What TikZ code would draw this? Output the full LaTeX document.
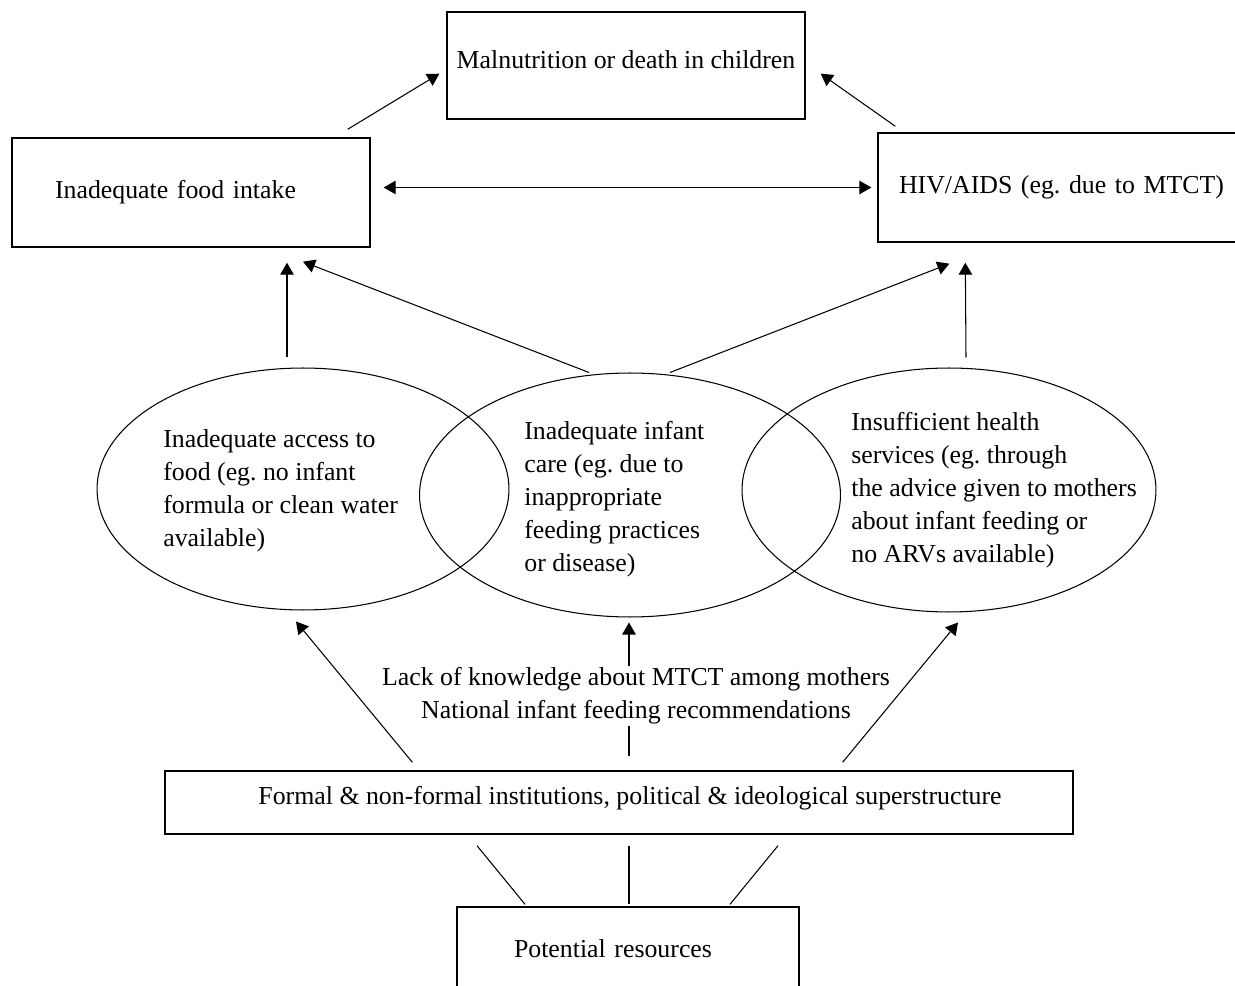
\documentclass[tikz,border=0pt]{standalone}
\usepackage{fontspec}
\setmainfont{Liberation Serif}
\frenchspacing
\usetikzlibrary{arrows.meta}
\usetikzlibrary{calc}
\usetikzlibrary{shapes.geometric}

\begin{document}
\begin{tikzpicture}[x = 0.02cm, y = -0.02cm, font = \fontsize{14.7pt}{18.8pt}\selectfont,
	box/.style = {draw, thick, inner sep = 0pt},
	oval/.style = {draw, semithick, ellipse, inner sep = 0pt},
	ovaltext/.style = {anchor = west, align = left, inner sep = 0pt},
	arr/.style = {semithick, -{Triangle[length = 0.24cm, width = 0.27cm]}},
	dblarr/.style = {semithick, {Triangle[length = 0.24cm, width = 0.27cm]}-{Triangle[length = 0.24cm, width = 0.27cm]}},
	link/.style = {semithick}]
	\fill[white] (0,0) rectangle (1235,986);
	\useasboundingbox (0,0) rectangle (1235,986);
	% boxes
	\node[box, minimum width = 7.16cm, minimum height = 2.14cm, text depth = 0.25cm] (mal) at (626,65.5) {Malnutrition or death in children};
	\node[box, text width = 5.44cm, inner xsep = 0.86cm, minimum height = 2.18cm, align = left] (food) at (191,192.5) {Inadequate food intake};
	\node[box, text width = 7.4cm, inner xsep = 0.42cm, minimum height = 2.18cm, align = left] (hiv) at (1084,187.5) {HIV/AIDS (eg. due to MTCT)};
	\node[box, minimum width = 18.16cm, minimum height = 1.26cm,
		label = {[name = formaltext, xshift = 0.22cm, yshift = 0.08cm]center:Formal \& non-formal institutions, political \& ideological superstructure}] (formal) at (619,802.5) {};
	\node[box, text width = 4.56cm, inner xsep = 1.14cm, minimum height = 1.68cm, align = left] (res) at (628,949) {Potential resources};
	% ellipses
	\node[oval, minimum width = 8.24cm, minimum height = 4.84cm] (acc) at (303,489) {};
	\node[oval, minimum width = 8.42cm, minimum height = 4.88cm] (care) at (630,495) {};
	\node[oval, minimum width = 8.28cm, minimum height = 4.88cm] (hlth) at (949,490) {};
	\node[ovaltext] (acctext) at (163,491) {Inadequate access to\\food (eg. no infant\\formula or clean water\\available)};
	\node[ovaltext] (caretext) at (524,499) {Inadequate infant\\care (eg. due to\\inappropriate\\feeding practices\\or disease)};
	\node[ovaltext] (hlthtext) at (851,490) {Insufficient health\\services (eg. through\\the advice given to mothers\\about infant feeding or\\no ARVs available)};
	% arrows
	\draw[arr] ([shift={(-23,-8)}]food.north east) -- ([shift={(-7,-46)}]mal.south west);
	\draw[arr] ([shift={(18,-6)}]hiv.north west) -- ([shift={(15,-46)}]mal.south east);
	\draw[dblarr, shorten <= 0.26cm, shorten >= 0.12cm] (hiv.west -| food.east) -- (hiv.west);
	\draw[arr] ([shift={(-16,-10)}]acc.north) -- ([shift={(96,15)}]food.south);
	\draw[arr] ([shift={(-41,0)}]care.north) -- ([shift={(112,14)}]food.south);
	\draw[arr] ([shift={(40,0)}]care.north) -- ([shift={(72,21)}]hiv.south west);
	\draw[arr] ([shift={(17,-10)}]hlth.north) -- ([shift={(88,20)}]hiv.south west);
	\draw[arr] ([shift={(10,-14)}]formal.north) -- ([shift={(-1,5)}]care.south);
	\node[fill = white, align = center, inner sep = 1pt] (know) at (636,696) {Lack of knowledge about MTCT among mothers\\National infant feeding recommendations};
	\draw[arr] ([shift={(248,-8)}]formal.north west) -- ([shift={(-7,11)}]acc.south);
	\draw[arr] ([shift={(-231,-8)}]formal.north east) -- ([shift={(9,10)}]hlth.south);
	% resources
	\draw[link] ([shift={(-103,-2)}]res.north) -- ([shift={(-142,11)}]formal.south);
	\draw[link] ([shift={(1,-2)}]res.north) -- ([shift={(10,11)}]formal.south);
	\draw[link] ([shift={(102,-2)}]res.north) -- ([shift={(159,11)}]formal.south);
\end{tikzpicture}
\end{document}
